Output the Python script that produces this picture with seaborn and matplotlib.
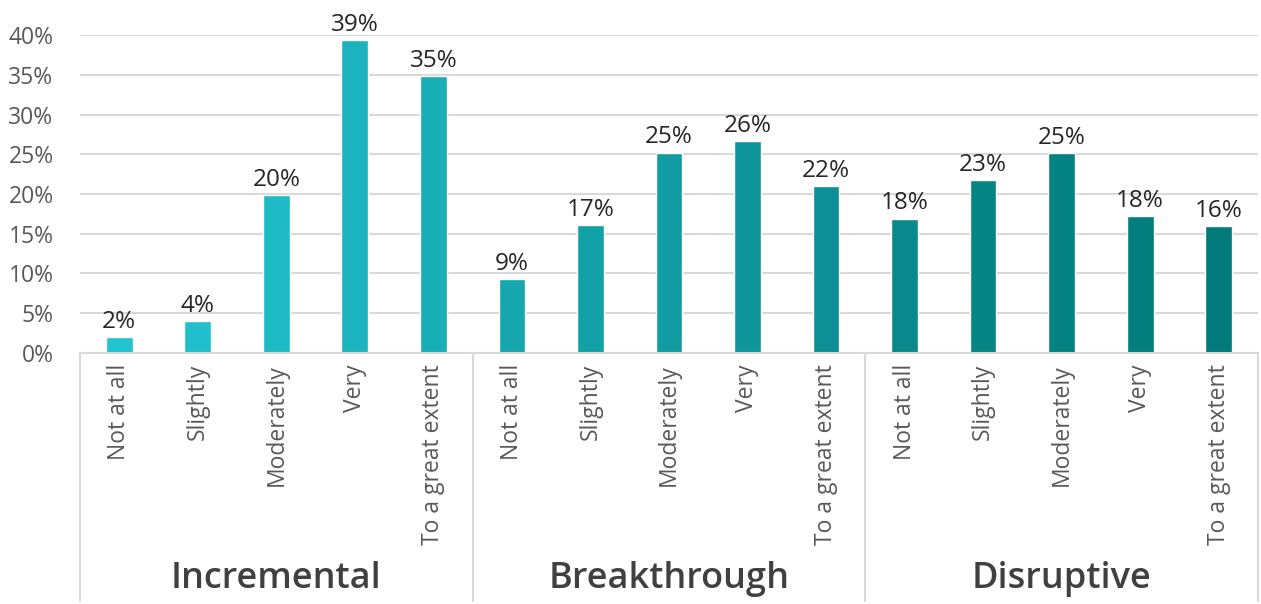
import seaborn as sns
import matplotlib.pyplot as plt
import pandas as pd

# Survey data
groups = ["Incremental", "Breakthrough", "Disruptive"]
levels = ["Not at all", "Slightly", "Moderately", "Very", "To a great extent"]
incremental = [2.0, 4.0, 19.9, 39.4, 34.8]
breakthrough = [9.3, 16.1, 25.2, 26.7, 21.0]
disruptive = [16.9, 21.8, 25.1, 17.2, 16.0]
# data labels as printed on the chart
incremental_labels = ["2%", "4%", "20%", "39%", "35%"]
breakthrough_labels = ["9%", "17%", "25%", "26%", "22%"]
disruptive_labels = ["18%", "23%", "25%", "18%", "16%"]

bar_colors = ["#22C4D2", "#20BFCB", "#1EBAC5", "#1BB4BE", "#18AEB6",
              "#15A6AE", "#13A1A8", "#119BA2", "#0F959B", "#0C8F95",
              "#09898B", "#068585", "#048181", "#027E7E", "#007A7B"]

rows = []
for g, vals, labs in zip(groups, [incremental, breakthrough, disruptive],
                         [incremental_labels, breakthrough_labels, disruptive_labels]):
    for lev, v, lab in zip(levels, vals, labs):
        rows.append({"group": g, "level": lev, "value": v / 100, "label": lab})
df = pd.DataFrame(rows)
df["slot"] = [f"{r.group}|{r.level}" for r in df.itertuples()]

sns.set_style("white")
plt.rcParams['font.family'] = ['Open Sans', 'DejaVu Sans']

fig = plt.figure(figsize=(12.61, 6.04), dpi=100)
ax = fig.add_axes([0.0634, 0.4156, 0.9342, 0.5264])

sns.barplot(data=df, x="slot", y="value", hue="slot", palette=bar_colors,
            order=list(df["slot"]), hue_order=list(df["slot"]),
            width=0.34, legend=False, ax=ax, saturation=1)

ax.set_ylim(0, 0.40)
ax.set_xlim(-0.5, len(df) - 0.5)
ax.set_yticks([i * 0.05 for i in range(9)])
ax.set_yticklabels([f"{i * 5}%" for i in range(9)], fontsize=16.5, color="#595959")
ax.yaxis.grid(True, color="#D9D9D9", linewidth=1.5)
ax.set_axisbelow(True)
for s in ["top", "right", "left"]:
    ax.spines[s].set_visible(False)
ax.spines["bottom"].set_color("#D9D9D9")
ax.spines["bottom"].set_linewidth(1.5)
ax.tick_params(axis="y", length=0, pad=19)
ax.tick_params(axis="x", length=0, pad=8)
ax.set_xticks(range(len(df)))
ax.set_xticklabels(list(df["level"]), rotation=90, fontsize=16.5, color="#595959", va="top")
ax.set_xlabel("")
ax.set_ylabel("")

# data labels
for i, r in enumerate(df.itertuples()):
    ax.text(i, r.value + 0.004, r.label, ha="center", va="bottom",
            fontsize=17.5, color="#262626", fontweight="medium")

# group separators and names
trans = ax.get_xaxis_transform()
for x in [-0.5, 4.5, 9.5, 14.5]:
    ax.plot([x, x], [0, -0.78], transform=trans, color="#D9D9D9",
            linewidth=1.5, clip_on=False)
for k, g in enumerate(groups):
    ax.text(k * 5 + 2, -0.71, g, transform=trans, ha="center", va="center",
            fontsize=26, color="#404040", fontweight="semibold")

plt.savefig("out.png", dpi=100)
plt.close()
